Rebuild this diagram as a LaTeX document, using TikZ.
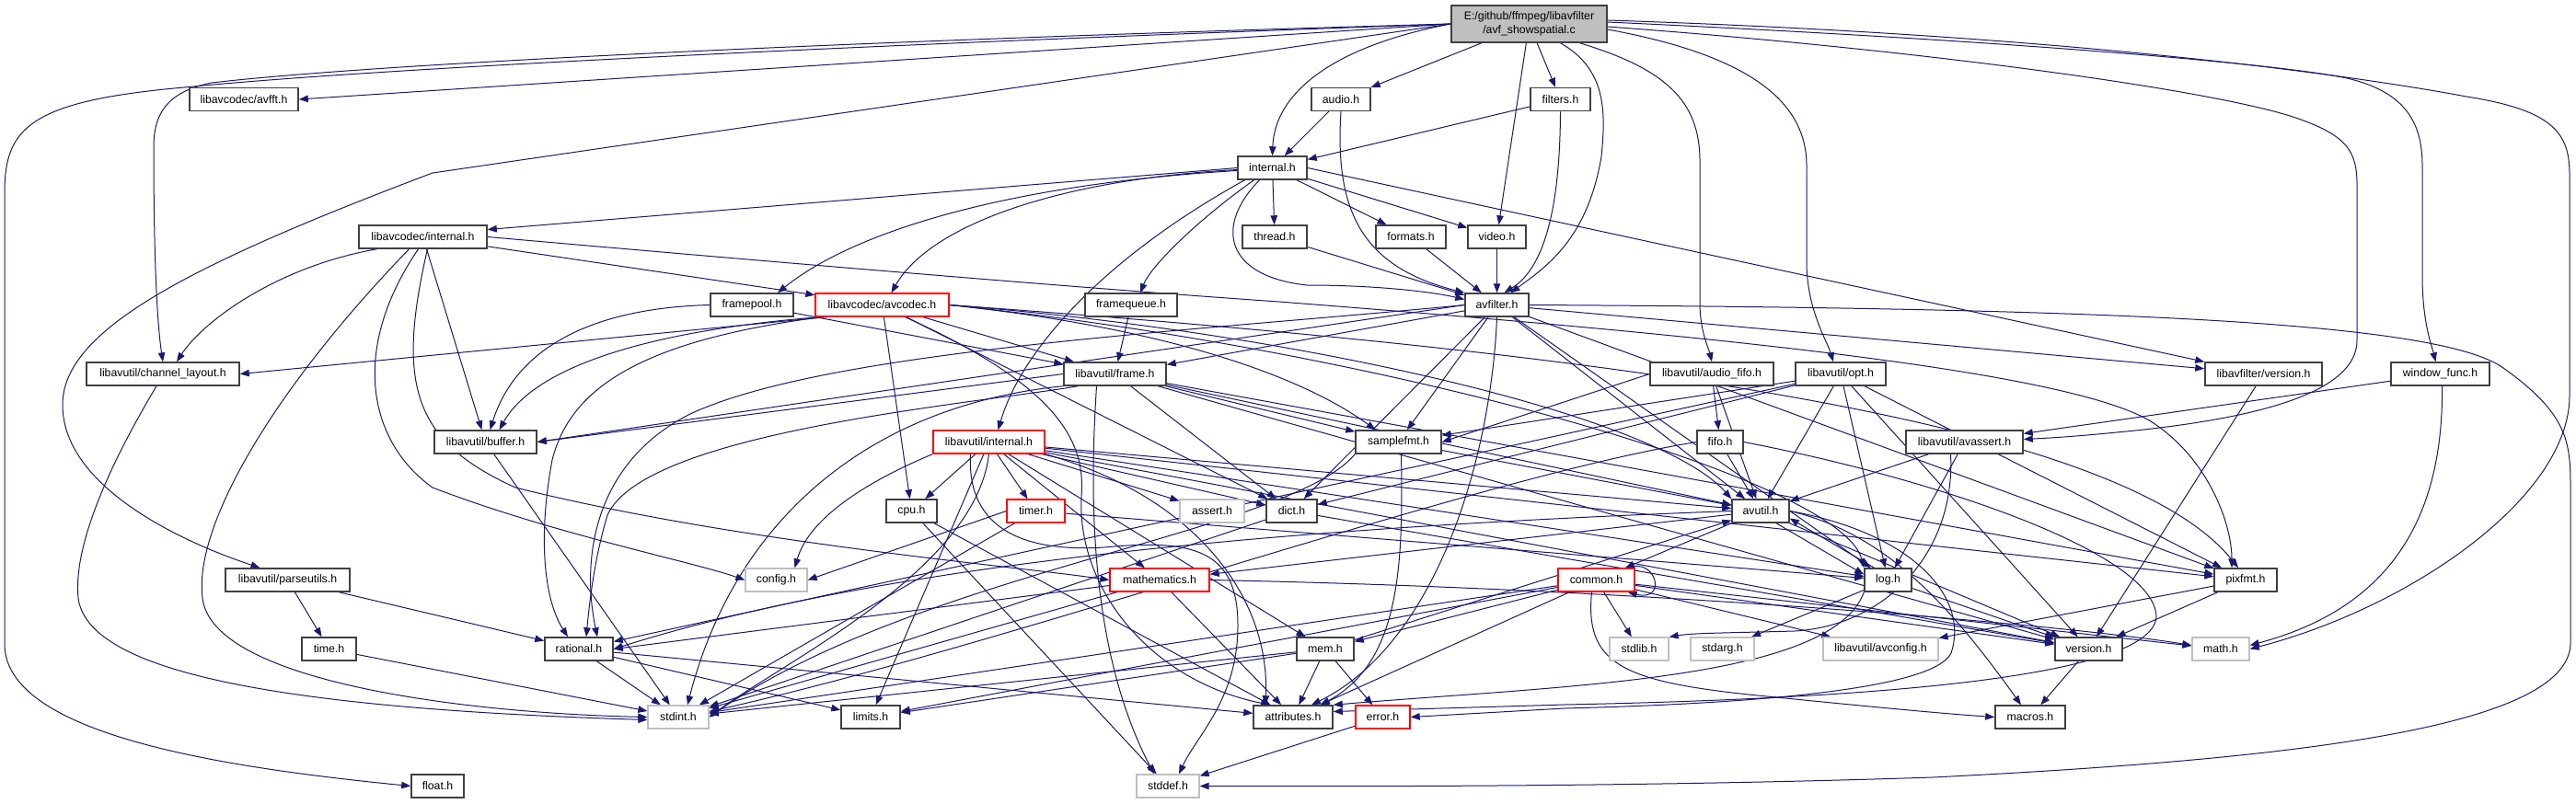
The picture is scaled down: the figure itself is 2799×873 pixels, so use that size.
\documentclass[tikz,border=0pt]{standalone}
\usepackage{fontspec}
\setmainfont{Liberation Sans}
\usetikzlibrary{arrows.meta}
\definecolor{edgecol}{HTML}{191970}
\definecolor{nodeblack}{HTML}{404040}
\definecolor{nodered}{HTML}{FF0000}
\definecolor{nodegray}{HTML}{BFBFBF}
\definecolor{rootfill}{HTML}{BFBFBF}
\newcommand{\nfont}{\fontsize{12.3}{15}\selectfont}
\pgfdeclarelayer{bglayer}
\pgfdeclarelayer{edgelayer}
\pgfsetlayers{bglayer,edgelayer,main}
\begin{document}
\begin{tikzpicture}[x=1pt,y=-1pt,
  nb/.style={draw=nodeblack, line width=1.5pt, fill=white, minimum height=25pt, inner sep=0pt, font=\nfont, text=black},
  nr/.style={nb, draw=nodered, line width=1.3pt},
  ng/.style={nb, draw=nodegray, line width=1.3pt},
  e/.style={draw=edgecol, line width=1pt, -{Triangle[length=10pt,width=7.5pt]}}]
\begin{pgfonlayer}{bglayer}
\fill[white] (0,0) rectangle (2799,873);
\end{pgfonlayer}
\useasboundingbox (0,0) rectangle (2799,873);
% nodes
\node[nb, fill=rootfill, minimum width=169pt, minimum height=40pt, align=center] (root) at (1661.5,26) {E:/github/ffmpeg/libavfilter\\/avf\_showspatial.c};
\node[nb, minimum width=118pt] (avfft) at (265,108) {libavcodec/avfft.h};
\node[nb, minimum width=64pt] (audio) at (1457,108) {audio.h};
\node[nb, minimum width=65pt] (filters) at (1695.5,108) {filters.h};
\node[nb, minimum width=75pt] (internal) at (1382.5,182.5) {internal.h};
\node[nb, minimum width=139pt] (lavcint) at (459.5,257.5) {libavcodec/internal.h};
\node[nb, minimum width=70pt] (thread) at (1385,257.5) {thread.h};
\node[nb, minimum width=76pt] (formats) at (1533,257.5) {formats.h};
\node[nb, minimum width=63pt] (video) at (1626.5,257.5) {video.h};
\node[nb, minimum width=90pt] (framepool) at (817,331.5) {framepool.h};
\node[nr, minimum width=145pt] (avcodec) at (958.5,331.5) {libavcodec/avcodec.h};
\node[nb, minimum width=100pt] (framequeue) at (1229,331.5) {framequeue.h};
\node[nb, minimum width=69pt] (avfilter) at (1626.5,331.5) {avfilter.h};
\node[nb, minimum width=166pt] (chlayout) at (177,406.5) {libavutil/channel\_layout.h};
\node[nb, minimum width=111pt] (frame) at (1211.5,406.5) {libavutil/frame.h};
\node[nb, minimum width=134pt] (afifo) at (1860,406.5) {libavutil/audio\_fifo.h};
\node[nb, minimum width=98pt] (opt) at (2000,406.5) {libavutil/opt.h};
\node[nb, minimum width=127pt] (lavfiver) at (2459.5,406.5) {libavfilter/version.h};
\node[nb, minimum width=107pt] (winfunc) at (2651.5,406.5) {window\_func.h};
\node[nb, minimum width=111pt] (buffer) at (527.5,480.5) {libavutil/buffer.h};
\node[nr, minimum width=121pt] (lavuint) at (1074.5,480.5) {libavutil/internal.h};
\node[nb, minimum width=93pt] (samplefmt) at (1519.5,480.5) {samplefmt.h};
\node[nb, minimum width=50pt] (fifo) at (1869,480.5) {fifo.h};
\node[nb, minimum width=127pt] (avassert) at (2134.5,480.5) {libavutil/avassert.h};
\node[nb, minimum width=55pt] (cpu) at (990.5,555.5) {cpu.h};
\node[nr, minimum width=63pt] (timer) at (1125.5,555.5) {timer.h};
\node[ng, minimum width=70pt] (assert) at (1317,555.5) {assert.h};
\node[nb, minimum width=55pt] (dict) at (1403.5,555.5) {dict.h};
\node[nb, minimum width=62pt] (avutil) at (1913,555.5) {avutil.h};
\node[nb, minimum width=135pt] (parseutils) at (312.5,630.5) {libavutil/parseutils.h};
\node[ng, minimum width=67pt] (config) at (843.5,630.5) {config.h};
\node[nr, minimum width=108pt] (mathematics) at (1260,630.5) {mathematics.h};
\node[nr, minimum width=83pt] (common) at (1734.5,630.5) {common.h};
\node[nb, minimum width=51pt] (log) at (2051.5,630.5) {log.h};
\node[nb, minimum width=68pt] (pixfmt) at (2440,630.5) {pixfmt.h};
\node[nb, minimum width=59pt] (time) at (357.5,705.5) {time.h};
\node[nb, minimum width=74pt] (rational) at (629,705.5) {rational.h};
\node[nb, minimum width=62pt] (mem) at (1440,705.5) {mem.h};
\node[ng, minimum width=64pt] (stdlib) at (1781,705.5) {stdlib.h};
\node[ng, minimum width=69pt] (stdarg) at (1871.5,705.5) {stdarg.h};
\node[ng, minimum width=125pt] (avconfig) at (2043.5,705.5) {libavutil/avconfig.h};
\node[nb, minimum width=73pt] (version) at (2269.5,705.5) {version.h};
\node[ng, minimum width=62pt] (math) at (2413,705.5) {math.h};
\node[ng, minimum width=66pt] (stdint) at (737,779.5) {stdint.h};
\node[nb, minimum width=64pt] (limits) at (946,779.5) {limits.h};
\node[nb, minimum width=86pt] (attributes) at (1405,779.5) {attributes.h};
\node[nr, minimum width=59pt] (error) at (1502.5,779.5) {error.h};
\node[nb, minimum width=76pt] (macros) at (2206,779.5) {macros.h};
\node[nb, minimum width=57pt] (float) at (475.5,854.5) {float.h};
\node[ng, minimum width=68pt] (stddef) at (1269,854.5) {stddef.h};
\begin{pgfonlayer}{edgelayer}
% root
\draw[e] (root.west) -- (avfft.east);
\draw[e] (root.west) .. controls (900,50) and (400,75) .. (200,95) .. controls (30,110) and (5,140) .. (5,210) -- (5,700) .. controls (5,800) and (250,835) .. (float.west);
\draw[e] (root.west) .. controls (900,45) and (400,70) .. (230,90) .. controls (180,100) and (167,125) .. (167,160) .. controls (167,300) and (172,360) .. (chlayout.north);
\draw[e] (root.west) -- (470,188) .. controls (200,290) and (68,360) .. (68,440) .. controls (68,530) and (200,590) .. ([xshift=-30pt]parseutils.north);
\draw[e] (root.west) .. controls (1450,50) and (1385,100) .. (internal.north);
\draw[e] (root) -- (audio);
\draw[e] (root) -- (video);
\draw[e] (root) -- (filters);
\draw[e] ([xshift=34pt]root.south) .. controls (1745,75) and (1745,120) .. (1740,170) .. controls (1725,260) and (1680,290) .. ([xshift=15pt]avfilter.north);
\draw[e] ([xshift=55pt]root.south) .. controls (1810,75) and (1847,110) .. (1847,175) -- (1847,330) .. controls (1847,360) and (1857,380) .. (afifo.north);
\draw[e] ([yshift=-6pt]root.east) .. controls (1900,60) and (1963,110) .. (1963,180) -- (1963,290) .. controls (1965,340) and (1985,370) .. ([xshift=-8pt]opt.north);
\draw[e] ([yshift=-3pt]root.east) .. controls (2100,55) and (2420,100) .. (2500,130) .. controls (2550,148) and (2561,165) .. (2561,200) -- (2561,370) .. controls (2561,425) and (2460,455) .. (2300,470) .. controls (2260,474) and (2230,476) .. ([yshift=3pt]avassert.east);
\draw[e] ([yshift=2pt]root.east) .. controls (2200,45) and (2480,70) .. (2550,85) .. controls (2615,100) and (2632,135) .. (2632,180) -- (2632,300) .. controls (2632,350) and (2642,375) .. ([xshift=-5pt]winfunc.north);
\draw[e] ([yshift=4pt]root.east) .. controls (2300,40) and (2600,90) .. (2680,105) .. controls (2775,120) and (2792,145) .. (2792,190) -- (2792,430) .. controls (2792,540) and (2620,660) .. (math.east);
% audio, filters
\draw[e] (audio) -- (internal);
\draw[e] (audio.south) .. controls (1450,230) and (1480,290) .. (avfilter.north west);
\draw[e] (filters) -- (internal);
\draw[e] (filters.south) .. controls (1695,220) and (1680,290) .. ([xshift=8pt]avfilter.north);
% internal
\draw[e] (internal.west) -- ([yshift=8pt]lavcint.east);
\draw[e] ([yshift=-3pt]internal.west) .. controls (1100,200) and (930,250) .. ([xshift=28pt]framepool.north);
\draw[e] ([yshift=-2pt]internal.west) .. controls (1150,195) and (1010,245) .. ([xshift=10pt]avcodec.north);
\draw[e] ([xshift=-30pt]internal.south) .. controls (1200,280) and (1110,380) .. ([xshift=10pt]lavuint.north);
\draw[e] ([xshift=-20pt]internal.south) .. controls (1300,240) and (1250,290) .. ([xshift=10pt]framequeue.north);
\draw[e] (internal) -- (thread);
\draw[e] ([xshift=-14pt]internal.south) .. controls (1320,245) and (1330,300) .. (1420,310) .. controls (1500,310) and (1560,318) .. ([yshift=6pt]avfilter.west);
\draw[e] (internal) -- (formats);
\draw[e] (internal) -- (video);
\draw[e] (internal.east) -- (lavfiver.north west);
\draw[e] (thread) -- (avfilter);
\draw[e] (formats) -- (avfilter);
\draw[e] (video) -- (avfilter);
% libavcodec/internal.h
\draw[e] ([xshift=-50pt]lavcint.south) .. controls (300,290) and (220,350) .. ([xshift=15pt]chlayout.north);
\draw[e] (lavcint) -- (avcodec);
\draw[e] (lavcint) -- (buffer);
\draw[e] ([xshift=-15pt]lavcint.south) .. controls (300,420) and (210,570) .. (220,650) .. controls (230,740) and (500,775) .. (stdint.west);
\draw[e] ([xshift=-5pt]lavcint.south) .. controls (380,380) and (400,480) .. (470,530) .. controls (600,580) and (750,610) .. (config.west);
\draw[e] ([xshift=5pt]lavcint.south) .. controls (430,420) and (450,480) .. (560,530) .. controls (800,590) and (1100,615) .. (mathematics.west);
\draw[e] (lavcint.east) .. controls (900,290) and (1200,315) .. (1390,328) .. controls (1800,360) and (2250,400) .. (2340,460) .. controls (2400,500) and (2425,570) .. ([xshift=-15pt]pixfmt.north);
% framepool, framequeue
\draw[e] (framepool.west) .. controls (640,335) and (560,380) .. ([xshift=5pt]buffer.north);
\draw[e] (framepool) -- (frame);
\draw[e] (framequeue) -- (frame);
% avcodec
\draw[e] ([xshift=-60pt]avcodec.south) -- (chlayout.east);
\draw[e] ([xshift=-68pt]avcodec.south) .. controls (700,360) and (580,400) .. ([xshift=15pt]buffer.north);
\draw[e] ([xshift=-66pt]avcodec.south) .. controls (700,370) and (620,420) .. (600,500) .. controls (585,580) and (590,650) .. ([xshift=-12pt]rational.north);
\draw[e] (avcodec) -- (frame);
\draw[e] (avcodec) -- (cpu);
\draw[e] (avcodec) -- (dict);
\draw[e] (avcodec.east) .. controls (1300,360) and (1430,420) .. ([xshift=-25pt]samplefmt.north);
\draw[e] (avcodec.east) .. controls (1400,360) and (1800,450) .. (avutil.north west);
\draw[e] (avcodec.east) .. controls (1500,380) and (2000,520) .. (log.north west);
\draw[e] ([xshift=25pt]avcodec.south) .. controls (1150,420) and (1180,480) .. (1175,540) .. controls (1170,640) and (1250,740) .. ([xshift=-25pt]attributes.north);
\draw[e] (avcodec.east) .. controls (1700,380) and (2300,450) .. ([xshift=-8pt]pixfmt.north);
% frame
\draw[e] (frame) -- (avutil);
\draw[e] (frame.west) -- (buffer.east);
\draw[e] (frame) -- (dict);
\draw[e] ([xshift=-40pt]frame.south) .. controls (1050,440) and (700,470) .. (660,560) .. controls (645,610) and (640,660) .. ([xshift=8pt]rational.north);
\draw[e] (frame) -- (samplefmt);
\draw[e] (frame) -- (pixfmt);
\draw[e] (frame) -- (version);
\draw[e] ([xshift=-20pt]frame.south) .. controls (1185,520) and (1180,700) .. ([xshift=-15pt]stddef.north);
\draw[e] (frame.south west) .. controls (950,440) and (800,560) .. ([xshift=10pt]stdint.north);
% avfilter
\draw[e] (avfilter.east) .. controls (2300,335) and (2650,350) .. (2720,400) .. controls (2790,450) and (2793,480) .. (2793,530) -- (2793,700) .. controls (2790,790) and (2500,825) .. (2100,845) .. controls (1800,855) and (1500,855) .. (stddef.east);
\draw[e] (avfilter) -- (lavfiver);
\draw[e] (avfilter.south) .. controls (1620,500) and (1560,700) .. ([xshift=20pt]attributes.north);
\draw[e] (avfilter) -- (avutil);
\draw[e] (avfilter.west) -- (buffer.east);
\draw[e] (avfilter) -- (dict);
\draw[e] (avfilter) -- (frame);
\draw[e] (avfilter) -- (log);
\draw[e] (avfilter) -- (samplefmt);
\draw[e] (avfilter) -- (pixfmt);
\draw[e] (avfilter.west) .. controls (1300,360) and (900,380) .. (750,450) .. controls (650,500) and (630,600) .. ([xshift=20pt]rational.north);
% channel_layout
\draw[e] ([xshift=-7pt]chlayout.south) .. controls (110,520) and (80,600) .. (85,650) .. controls (95,730) and (300,770) .. ([yshift=-3pt]stdint.west);
% audio_fifo, opt
\draw[e] (afifo) -- (avutil);
\draw[e] (afifo) -- (fifo);
\draw[e] (afifo.west) -- (samplefmt.east);
\draw[e] (opt) -- (rational);
\draw[e] (opt) -- (avutil);
\draw[e] (opt) -- (dict);
\draw[e] (opt) -- (log);
\draw[e] (opt) -- (pixfmt);
\draw[e] (opt) -- (samplefmt);
\draw[e] (opt) -- (version);
\draw[e] (lavfiver) -- (version);
% window_func
\draw[e] (winfunc) -- (avassert);
\draw[e] ([xshift=2pt]winfunc.south) .. controls (2655,560) and (2600,660) .. ([yshift=4pt]math.east);
% buffer
\draw[e] (buffer) -- (stdint);
% libavutil/internal.h
\draw[e] (lavuint) -- (cpu);
\draw[e] (lavuint) -- (timer);
\draw[e] (lavuint) -- (assert);
\draw[e] (lavuint) -- (dict);
\draw[e] (lavuint.south west) .. controls (950,520) and (880,560) .. ([xshift=20pt]config.north);
\draw[e] (lavuint.south) .. controls (1060,620) and (850,720) .. (stdint.east);
\draw[e] (lavuint) -- (limits);
\draw[e] ([xshift=-20pt]lavuint.south) .. controls (1050,580) and (1120,600) .. (1200,595) .. controls (1300,585) and (1345,600) .. (1345,680) .. controls (1345,760) and (1300,800) .. ([xshift=12pt]stddef.north);
\draw[e] (lavuint.south east) .. controls (1300,540) and (1380,650) .. ([xshift=-30pt]attributes.north);
\draw[e] (lavuint) -- (avutil);
\draw[e] (lavuint) -- (log);
\draw[e] (lavuint) -- (pixfmt);
\draw[e] (lavuint) -- (version);
\draw[e] (lavuint) -- (mem);
\draw[e] (lavuint) -- (mathematics);
% samplefmt
\draw[e] (samplefmt) -- (avutil);
\draw[e] ([xshift=3pt]samplefmt.south) .. controls (1525,620) and (1520,720) .. ([xshift=30pt]attributes.north);
\draw[e] (samplefmt.south west) .. controls (1400,580) and (1000,620) .. (stdint.east);
% fifo
\draw[e] (fifo) -- (avutil);
\draw[e] (fifo.east) .. controls (2100,520) and (2340,600) .. (2343,670) .. controls (2340,740) and (2000,760) .. (1700,766) -- ([yshift=6pt]attributes.east);
\draw[e] (fifo.west) .. controls (1600,520) and (1100,700) .. ([yshift=6pt]stdint.east);
% avassert
\draw[e] (avassert) -- (avutil);
\draw[e] (avassert) -- (log);
\draw[e] ([xshift=-15pt]avassert.south) .. controls (2125,600) and (2050,680) .. (1950,686) .. controls (1880,688) and (1840,688) .. (stdlib.north east);
% cpu, timer, dict
\draw[e] (cpu) -- (stddef);
\draw[e] (cpu) -- (attributes);
\draw[e] (timer.west) -- (config.east);
\draw[e] (timer) -- (stdint);
\draw[e] (timer) -- (log);
\draw[e] (dict) -- (stdint);
\draw[e] (dict) -- (version);
% avutil
\draw[e] (avutil) -- (common);
\draw[e] (avutil.east) .. controls (2080,580) and (2140,650) .. (2120,710) .. controls (2100,750) and (1900,765) .. (1700,770) -- (error.east);
\draw[e] (avutil.east) .. controls (2050,580) and (2120,660) .. ([xshift=-10pt]macros.north);
\draw[e] (avutil) -- (mathematics);
\draw[e] (avutil.west) .. controls (1500,570) and (1000,600) .. (rational.east);
\draw[e] (avutil) -- (version);
\draw[e] ([xshift=17pt]avutil.south) -- ([yshift=6pt]log.west);
\draw[e] ([xshift=-15pt]log.north) -- ([yshift=-8pt]avutil.east);
% parseutils, time
\draw[e] (parseutils) -- (time);
\draw[e] (parseutils) -- (rational);
\draw[e] (time) -- (stdint);
% mathematics
\draw[e] (mathematics) -- (stdint);
\draw[e] (mathematics.east) .. controls (1800,640) and (2250,680) .. ([yshift=4pt]math.west);
\draw[e] (mathematics) -- (attributes);
\draw[e] ([yshift=-6pt]mathematics.west) -- (rational.east);
% common
\draw[e] (common) -- (stdlib);
\draw[e] (common) -- (stdint);
\draw[e] (common) -- (limits);
\draw[e] (common) -- (math);
\draw[e] (common) -- (attributes);
\draw[e] ([xshift=-5pt]common.south) .. controls (1722,720) and (1760,740) .. (1900,755) .. controls (2000,765) and (2100,775) .. (macros.west);
\draw[e] (common) -- (version);
\draw[e] (common) -- (avconfig);
\draw[e] (common) -- (mem);
\draw[e] ([xshift=-8pt]common.north east) .. controls (1800,605) and (1812,655) .. ([xshift=-8pt]common.south east);
% log
\draw[e] (log) -- (stdarg);
\draw[e] (log.south west) .. controls (1990,740) and (1700,745) .. (attributes.north east);
\draw[e] (log) -- (version);
% pixfmt
\draw[e] (pixfmt) -- (avconfig);
\draw[e] (pixfmt) -- (version);
% rational, mem, version, error
\draw[e] (rational) -- (stdint);
\draw[e] (rational) -- (limits);
\draw[e] (rational) -- (attributes);
\draw[e] (mem) -- (stdint);
\draw[e] (mem) -- (limits);
\draw[e] (mem) -- (attributes);
\draw[e] (mem) -- (error);
\draw[e] (mem) -- (avutil);
\draw[e] (version) -- (macros);
\draw[e] (error) -- (stddef);
\end{pgfonlayer}
\end{tikzpicture}
\end{document}
